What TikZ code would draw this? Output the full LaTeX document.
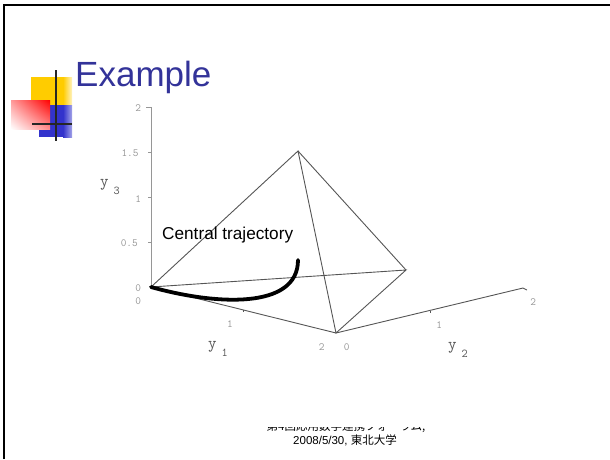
\documentclass[tikz,border=0pt]{standalone}
\usetikzlibrary{shadings}
\usepackage{fontspec}
\setmainfont{Liberation Sans}
\newfontfamily\cjk{Noto Sans CJK JP}
\definecolor{titleblue}{RGB}{51,51,153}
\definecolor{axisgray}{RGB}{150,150,150}
\definecolor{edgegray}{RGB}{85,85,85}
\definecolor{logoyellow}{RGB}{255,204,0}
\definecolor{logoblue}{RGB}{51,51,204}
\definecolor{logored}{RGB}{255,0,0}

\begin{document}
\begin{tikzpicture}[x=1pt, y=-1pt,
  axis/.style={draw=axisgray, line width=1pt},
  edge/.style={draw=edgegray, line width=0.9pt},
  ticklbl/.style={font=\ttfamily\fontsize{11}{11}\selectfont, text=axisgray, inner sep=0pt},
  axlbl/.style={font=\ttfamily\fontsize{16.5}{16.5}\selectfont, text=edgegray, inner sep=0pt, anchor=base west},
  traj/.style={line width=3.8pt, black, line cap=round},
  foot/.style={font=\fontsize{11.5}{11.5}\selectfont, inner sep=0pt, anchor=base}]

\useasboundingbox (0,0) rectangle (610,459);

% slide frame
\draw[line width=2pt] (4,459) -- (4,5) -- (610,5);

% logo
\fill[logoyellow] (31,77) rectangle (63,105);
\shade[left color=logoyellow, right color=logoyellow!25] (63,77) rectangle (72,105);
\fill[logoblue] (39,105) rectangle (63,137);
\shade[left color=logoblue, right color=logoblue!45] (63,105) rectangle (72,137);
\shade[upper right=logored, upper left=logored!40, lower right=logored!45, lower left=white] (11,100) rectangle (50,129);
\draw[line width=1.6pt, black!85] (56,70) -- (56,141);
\draw[line width=1.6pt, black!85] (32,124) -- (72,124);

\node[font=\fontsize{35}{35}\selectfont, text=titleblue, inner sep=0pt, anchor=base west] at (75,86) (title) {Example};

% axes and simplex
\coordinate (O) at (151,287);
\coordinate (Z) at (151,107);
\coordinate (A) at (298,151);
\coordinate (B) at (336,333);
\coordinate (C) at (406,270);
\coordinate (E) at (523,288);
\coordinate (T) at (298,260);

\draw[axis] (O) -- (Z) -- ++(-5,0);
\foreach \ty in {152,197,242} \draw[axis] (151,\ty) -- ++(-3,0);
\draw[edge] (O) -- (B) -- (E) -- ++(4,2);
\draw[edge] (243.5,310) -- ++(0,2); \draw[edge] (430,310.5) -- ++(0,2);
\draw[edge] (O) -- (A) -- (B) -- (C) -- (O);
\draw[edge] (A) -- (C);

\draw[traj] (O) .. controls (215,305) and (298,310) .. (T);

\node[font=\fontsize{17.2}{17.2}\selectfont, inner sep=0pt, anchor=base west] at (162,239.5) (central) {Central trajectory};

% tick labels
\node[ticklbl] at (138.3,108.3) (t32) {2};
\node[ticklbl] at (130,153.3) (t315) {1.5};
\node[ticklbl] at (138.3,199) (t31) {1};
\node[ticklbl] at (129.3,243.3) (t305) {0.5};
\node[ticklbl] at (138.3,288.3) (t30) {0};
\node[ticklbl] at (138.3,301) (t10) {0};
\node[ticklbl] at (230,324) (t11) {1};
\node[ticklbl] at (321.7,346.7) (t12) {2};
\node[ticklbl] at (346.7,347.3) (t20) {0};
\node[ticklbl] at (439.3,325) (t21) {1};
\node[ticklbl] at (533.3,301.7) (t22) {2};

% axis labels
\node[axlbl] at (100,186.5) (ylab3) {y\hspace{5pt}\raisebox{-8pt}{\fontsize{12}{12}\selectfont 3}};
\node[axlbl] at (208,348.5) (ylab1) {y\hspace{5pt}\raisebox{-8pt}{\fontsize{12}{12}\selectfont 1}};
\node[axlbl] at (448,349) (ylab2) {y\hspace{5pt}\raisebox{-8pt}{\fontsize{12}{12}\selectfont 2}};

% footer
\begin{scope}
\clip (200,427.5) rectangle (480,459);
\node[foot] at (346,430.5) (forum) {\cjk 第4回応用数学連携フォーラム,};
\end{scope}
\node[foot] at (345,444) (date) {2008/5/30, {\cjk 東北大学}};
\end{tikzpicture}
\end{document}
